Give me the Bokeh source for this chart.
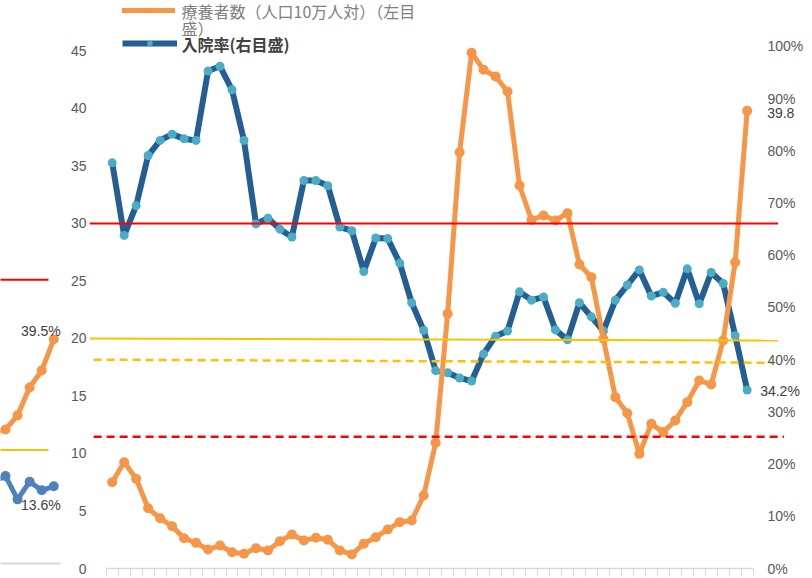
from bokeh.plotting import figure
from bokeh.models import (Range1d, LinearAxis, FixedTicker, PrintfTickFormatter,
                          Legend, LegendItem, Label)
from bokeh.layouts import row
from bokeh.embed import file_html
from bokeh.resources import INLINE
from bokeh.core.properties import value

# ---------------- data ----------------
# 療養者数（人口10万人対） left axis
cases = [7.50, 9.24, 7.80, 5.24, 4.37, 3.68, 2.63, 2.23, 1.65, 2.00,
         1.42, 1.28, 1.77, 1.57, 2.37, 2.96, 2.43, 2.67, 2.50, 1.57,
         1.22, 2.15, 2.72, 3.39, 4.03, 4.17, 6.35, 10.93, 22.15, 36.2,
         44.84, 43.37, 42.78, 41.48, 33.3, 30.3, 30.7, 30.26, 30.9, 26.43,
         25.33, 19.97, 14.9, 13.5, 9.97, 12.58, 11.86, 12.87, 14.46, 16.35,
         16.0, 19.83, 26.63, 39.8]
# 入院率（%） right axis
rate = [77.7, 63.8, 69.5, 79.1, 82.0, 83.2, 82.3, 82.0, 95.3, 96.2,
        91.7, 82.0, 66.0, 67.1, 65.0, 63.5, 74.3, 74.3, 73.3, 65.4,
        64.7, 56.9, 63.3, 63.2, 58.5, 50.9, 45.6, 37.9, 37.5, 36.5,
        35.9, 41.1, 44.5, 45.5, 53.0, 51.4, 52.0, 45.7, 43.8, 50.9,
        48.2, 45.5, 51.4, 54.3, 57.2, 52.2, 52.9, 50.8, 57.4, 50.7,
        56.7, 54.6, 44.6, 34.2]
idx = list(range(len(cases)))

left_ticks = [0, 5, 10, 15, 20, 25, 30, 35, 40, 45]
right_ticks = [0, 10, 20, 30, 40, 50, 60, 70, 80, 90, 100]

# reference lines (left-axis units) and their category extents
ref_solid_red = [30.0, 30.0]
ref_solid_yel = [20.0, 19.83]
ref_dash_yel = [18.16, 17.89]
ref_dash_red = [11.45, 11.45]
ref_x_solid = [-1.9, 55.58]
ref_x_dash_yel = [-1.55, 55.25]
ref_x_dash_red = [-1.55, 56.08]

# fragment of the neighbouring chart (left edge)
frag_x = [-1, 0, 1, 2, 3, 4]
frag_orange = [23.0, 23.6, 26.1, 31.0, 34.0, 39.5]
frag_blue = [14.5, 15.4, 11.3, 14.4, 12.9, 13.6]
frag_ref_red = [50, 50]
frag_ref_yel = [20, 20]
frag_ref_x = [-1, 3.56]

ORANGE = "#F79646"
NAVY = "#235F92"
AQUA = "#4BACC6"
FRAG_BLUE = "#4F81BD"
RED = "#FF0000"
YEL = "#FFC000"
NUMFONT = "Liberation Sans"
JPFONT = "Noto Sans CJK JP"

# ---------------- fragment figure ----------------
frag = figure(frame_width=62, frame_height=563,
              x_range=Range1d(-0.414, 4.722), y_range=Range1d(0, 99.19),
              output_backend="svg", toolbar_location=None, y_axis_location=None,
              min_border_left=0, min_border_right=0, min_border_top=0, min_border_bottom=4)
frag.outline_line_color = None
frag.xgrid.visible = False
frag.ygrid.visible = False
ax = frag.xaxis[0]
ax.ticker = FixedTicker(ticks=[])
ax.bounds = (-1, 4.56)
ax.axis_line_color = "#d9d9d9"
ax.axis_line_width = 2
ax.major_tick_line_color = None
ax.minor_tick_line_color = None
ax.major_tick_out = 0
ax.major_label_text_color = None
ax.major_label_text_font_size = "1px"
ax.major_label_standoff = 0

frag.line(frag_ref_x, frag_ref_red, line_color=RED, line_width=2)
frag.line(frag_ref_x, frag_ref_yel, line_color=YEL, line_width=2)
frag.line(frag_x, frag_orange, line_color=ORANGE, line_width=5, line_join="round")
frag.scatter(frag_x, frag_orange, size=10, fill_color=ORANGE, line_color=None)
frag.line(frag_x, frag_blue, line_color=FRAG_BLUE, line_width=5, line_join="round")
frag.scatter(frag_x, frag_blue, size=10, fill_color=FRAG_BLUE, line_color=None)
frag.text(x=[frag_x[-1]], y=[frag_orange[-1]], text=[f"{frag_orange[-1]:.1f}%"],
          x_offset=7, y_offset=-8, text_align="right", text_baseline="middle",
          text_font=value(NUMFONT), text_font_size="14px", text_color="#404040")
frag.text(x=[frag_x[-1]], y=[frag_blue[-1]], text=[f"{frag_blue[-1]:.1f}%"],
          x_offset=7, y_offset=19, text_align="right", text_baseline="middle",
          text_font=value(NUMFONT), text_font_size="14px", text_color="#404040")

# ---------------- main figure ----------------
p = figure(frame_width=719, frame_height=568,
           x_range=Range1d(-1.895, 58.12), y_range=Range1d(0, 49.39),
           output_backend="svg", toolbar_location=None,
           min_border_left=27, min_border_right=0, min_border_top=0, min_border_bottom=10)
p.outline_line_color = None
p.xgrid.visible = False
p.ygrid.visible = False
p.extra_y_ranges = {"pct": Range1d(0, 108.8)}

xa = p.xaxis[0]
xa.ticker = FixedTicker(ticks=[i - 0.5 for i in range(len(cases) + 1)])
xa.bounds = (-0.5, len(cases) - 0.5)
xa.axis_line_color = "#d9d9d9"
xa.axis_line_width = 1.5
xa.major_tick_line_color = "#d9d9d9"
xa.major_tick_out = 8
xa.major_tick_in = 0
xa.minor_tick_line_color = None
xa.major_label_text_color = None
xa.major_label_text_font_size = "1px"
xa.major_label_standoff = 0

ya = p.yaxis[0]
ya.ticker = FixedTicker(ticks=left_ticks)
ya.axis_line_color = None
ya.major_tick_line_color = None
ya.minor_tick_line_color = None
ya.major_tick_out = 0
ya.major_label_standoff = 3
ya.major_label_text_font = NUMFONT
ya.major_label_text_font_size = "14px"
ya.major_label_text_color = "#595959"

ra = LinearAxis(y_range_name="pct", ticker=FixedTicker(ticks=right_ticks),
                formatter=PrintfTickFormatter(format="%d%%"))
ra.axis_line_color = None
ra.major_tick_line_color = None
ra.minor_tick_line_color = None
ra.major_tick_out = 0
ra.major_tick_in = 0
ra.major_label_standoff = -41
ra.major_label_text_font = NUMFONT
ra.major_label_text_font_size = "14px"
ra.major_label_text_color = "#595959"
p.add_layout(ra, "right")

b_line = p.line(idx, rate, y_range_name="pct", line_color=NAVY, line_width=6, line_join="round")
b_pts = p.scatter(idx, rate, y_range_name="pct", size=9, fill_color=AQUA, line_color=None)
o_line = p.line(idx, cases, line_color=ORANGE, line_width=5, line_join="round", line_cap="round")
o_pts = p.scatter(idx, cases, size=10, fill_color=ORANGE, line_color=None)

p.line(ref_x_solid, ref_solid_red, line_color=RED, line_width=2)
p.line(ref_x_solid, ref_solid_yel, line_color=YEL, line_width=2)
p.line(ref_x_dash_yel, ref_dash_yel, line_color=YEL, line_width=2.5, line_dash="8 5")
p.line(ref_x_dash_red, ref_dash_red, line_color=RED, line_width=2.5, line_dash="8 5")

p.text(x=[idx[-1]], y=[cases[-1]], text=[f"{cases[-1]:.1f}"], x_offset=20, y_offset=2,
       text_baseline="middle", text_font=value(NUMFONT), text_font_size="14px",
       text_color="#404040")
p.text(x=[idx[-1]], y=[rate[-1]], y_range_name="pct", text=[f"{rate[-1]:.1f}%"],
       x_offset=13, y_offset=1, text_baseline="middle", text_font=value(NUMFONT),
       text_font_size="14px", text_color="#404040")

# legend glyphs + legend texts
for rends, gw, loc in [([o_line, o_pts], 53, (33, 551)), ([b_line, b_pts], 55, (33, 518))]:
    lg = Legend(items=[LegendItem(label=" ", renderers=rends)], location=loc,
                padding=0, spacing=0, margin=0, glyph_width=gw, glyph_height=14,
                label_height=14, label_width=0, label_standoff=0,
                label_text_font_size="1px", border_line_color=None,
                background_fill_alpha=0)
    p.add_layout(lg)

p.add_layout(Label(x=92, y=558, x_units="screen", y_units="screen",
                   text="療養者数（人口10万人対）（左目", text_baseline="middle",
                   text_font=JPFONT, text_font_size="16px", text_color="#7f7f7f"))
p.add_layout(Label(x=92, y=541, x_units="screen", y_units="screen",
                   text="盛）", text_baseline="middle",
                   text_font=JPFONT, text_font_size="16px", text_color="#7f7f7f"))
p.add_layout(Label(x=92, y=525, x_units="screen", y_units="screen",
                   text="入院率(右目盛)", text_baseline="middle", text_font_style="bold",
                   text_font=JPFONT, text_font_size="16px", text_color="#404040"))

layout = row(frag, p)
open("out.html", "w").write(file_html(layout, INLINE))
